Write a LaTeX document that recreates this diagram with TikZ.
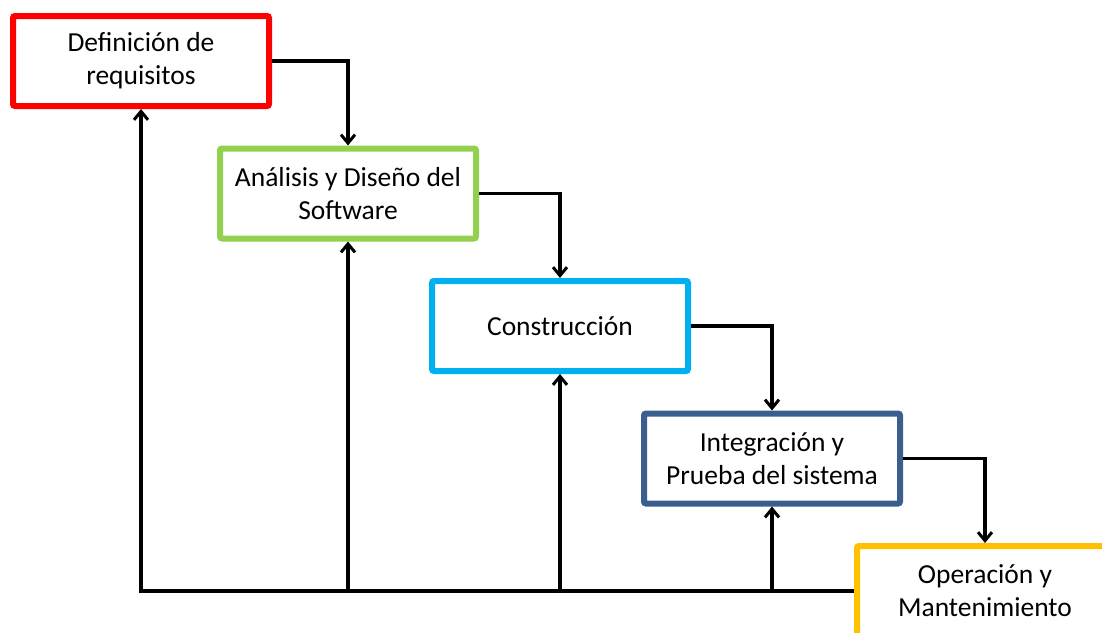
\documentclass[tikz,border=0pt]{standalone}
\usepackage{fontspec}
\setmainfont{Carlito}
\usepackage{xcolor}
\usepackage{tikz}
\usetikzlibrary{
    positioning,
    calc,
    arrows.meta
}
\definecolor{reqred}{HTML}{FF0000}
\definecolor{disgreen}{HTML}{92D050}
\definecolor{concyan}{HTML}{00B0F0}
\definecolor{intblue}{HTML}{3A5F8F}
\definecolor{opeyellow}{HTML}{FFC000}
\tikzset{
  phase/.style = {
      draw,
      rectangle,
      rounded corners=2pt,
      line width=6pt,
      fill=white,
      minimum width=256pt,
      minimum height=90pt,
      align=center,
      font=\fontsize{27.5}{33}\selectfont
  },
  link/.style = {
      line width=3.2pt,
      draw=black
  },
  flow/.style = {
      link,
      -{Straight Barb[length=8.5pt,width=14pt,line width=3pt]}
  }
}
\begin{document}
\begin{tikzpicture}[x=1pt, y=-1pt]
    \useasboundingbox (0,0) rectangle (1102,632);
    \clip (0,0) rectangle (1102,632);
    \node[phase, draw=reqred] (Def) at (141,61) {Definición de\\requisitos};
    \node[phase, draw=disgreen] (Ana) at (348,193.5) {Análisis y Diseño del\\Software};
    \node[phase, draw=concyan] (Con) at (560,326) {Construcción};
    \node[phase, draw=intblue] (Int) at (772,458.5) {Integración y\\Prueba del sistema};
    \node[phase, draw=opeyellow] (Ope) at (985,591) {Operación y\\Mantenimiento};
    % Cascada
    \draw[flow] (Def.east) -| (Ana.north);
    \draw[flow] (Ana.east) -| (Con.north);
    \draw[flow] (Con.east) -| (Int.north);
    \draw[flow] (Int.east) -| (Ope.north);
    % Retorno
    \coordinate (base) at (Def.south |- Ope.west);
    \draw[flow] (Ope.west) -- (base) -- (Def.south);
    \foreach \n in {Ana, Con, Int}
        \draw[flow] (\n.south |- base) -- (\n.south);
\end{tikzpicture}
\end{document}
